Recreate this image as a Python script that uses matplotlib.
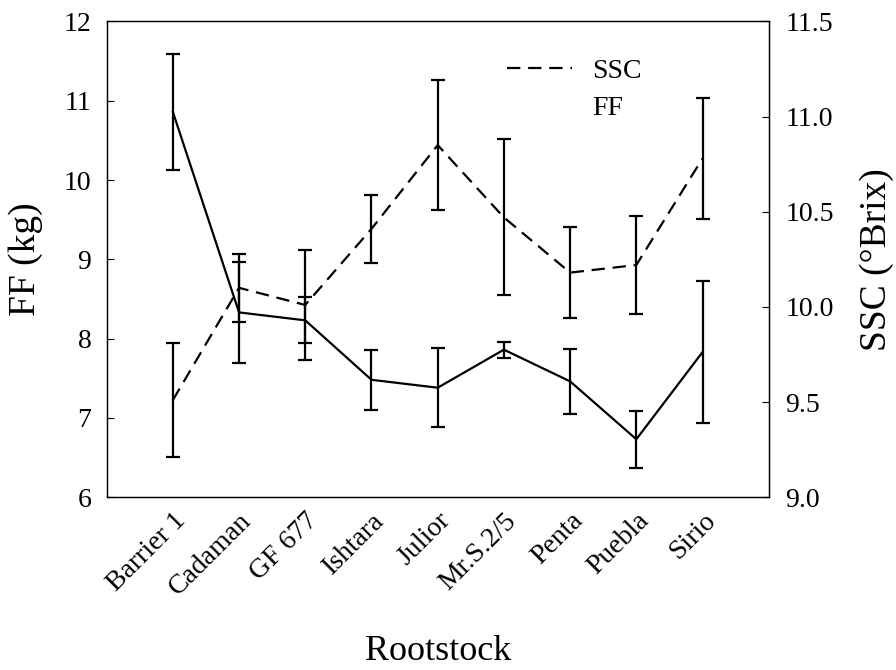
import numpy as np
import matplotlib
matplotlib.use('Agg')
import matplotlib.pyplot as plt
from matplotlib.lines import Line2D

plt.rcParams['font.family'] = ['Liberation Serif', 'DejaVu Serif']

rootstocks = ['Barrier 1', 'Cadaman', 'GF 677', 'Ishtara', 'Julior',
              'Mr.S.2/5', 'Penta', 'Puebla', 'Sirio']
ff = [10.86, 8.33, 8.23, 7.48, 7.38, 7.86, 7.46, 6.73, 7.83]      # firmness (kg)
ff_err = [0.73, 0.64, 0.29, 0.38, 0.50, 0.10, 0.41, 0.36, 0.89]
ssc = [9.51, 10.10, 10.01, 10.41, 10.85, 10.47, 10.18, 10.22, 10.78]  # °Brix
ssc_err = [0.30, 0.18, 0.29, 0.18, 0.34, 0.41, 0.24, 0.26, 0.32]

x = np.arange(len(rootstocks))

fig = plt.figure(figsize=(8.96, 6.7), dpi=100)
ax = fig.add_axes([0.119, 0.258, 0.739, 0.710])
ax2 = ax.twinx()

# FF - solid
ax.errorbar(x, ff, yerr=ff_err, color='black', lw=1.6, elinewidth=1.6,
            capsize=5, capthick=1.6)
# SSC - dashed
ax2.errorbar(x, ssc, yerr=ssc_err, color='black', lw=1.6, elinewidth=1.6,
             capsize=5, capthick=1.6, dashes=(6, 3.5))

ax.set_xlim(-1, 9)
ax.set_ylim(6, 12)
ax2.set_ylim(9.0, 11.5)
ax.set_yticks(range(6, 13))
ax2.set_yticks(np.arange(9.0, 11.51, 0.5))
ax2.set_yticklabels(['%.1f' % v for v in np.arange(9.0, 11.51, 0.5)])

ax.set_xticks(x)
ax.set_xticklabels(rootstocks, rotation=45, ha='right', rotation_mode='anchor')
ax.tick_params(axis='x', length=0, labelsize=20, pad=8)
ax.tick_params(axis='y', direction='in', length=5, width=0.8, labelsize=20, pad=11)
ax2.tick_params(axis='y', direction='in', length=5, width=0.8, labelsize=20, pad=12)

for a in (ax, ax2):
    for s in a.spines.values():
        s.set_linewidth(0.9)

ax.set_ylabel('FF (kg)', fontsize=27)
ax.yaxis.set_label_coords(-0.096, 0.5)
ax2.set_ylabel('SSC (°Brix)', fontsize=27)
ax2.yaxis.set_label_coords(1.137, 0.5)
ax.set_xlabel('Rootstock', fontsize=26)
ax.xaxis.set_label_coords(0.5, -0.29)

handles = [Line2D([], [], color='black', lw=1.6, dashes=(6, 3.5)),
           Line2D([], [], color='none')]
ax2.legend(handles, ['SSC', 'FF'], loc='upper left', bbox_to_anchor=(0.588, 0.945),
           frameon=False, fontsize=20, handlelength=2.35, handletextpad=0.72,
           labelspacing=0.4, borderaxespad=0)

fig.savefig('out.png', dpi=100)
